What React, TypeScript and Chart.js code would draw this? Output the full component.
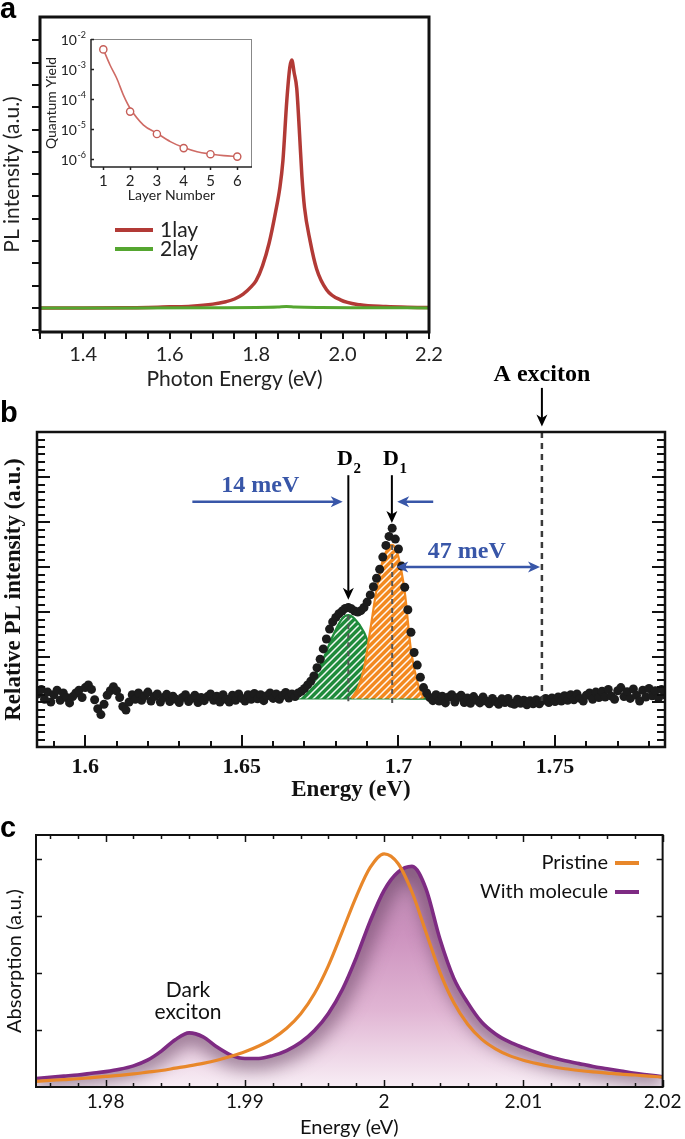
import React, { useEffect, useRef } from 'react';
import { Chart, registerables } from 'chart.js';

Chart.register(...registerables);

const SANS = 'Lato, "Open Sans", "DejaVu Sans", sans-serif';
const SERIF = '"Liberation Serif", "DejaVu Serif", serif';
const LETTER_FONT = 'bold 29px "Liberation Sans", Arial, sans-serif';

// ---------------- Panel a: PL spectra ----------------
const aEnergy1 = [1.30, 1.40, 1.50, 1.55, 1.60, 1.65, 1.70, 1.73, 1.75, 1.77, 1.79, 1.80, 1.815, 1.83, 1.845, 1.855, 1.862, 1.871, 1.878, 1.8826, 1.888, 1.894, 1.9005, 1.906, 1.912, 1.925, 1.94, 1.963, 1.995, 2.04, 2.10, 2.15, 2.20];
const aIntensity1 = [0, 0, 0.01, 0.02, 0.05, 0.08, 0.17, 0.28, 0.40, 0.62, 0.98, 1.22, 1.90, 2.90, 4.30, 5.40, 6.60, 9.30, 10.80, 11.12, 10.55, 9.85, 7.80, 5.90, 4.50, 3.00, 1.75, 0.82, 0.36, 0.14, 0.06, 0.03, 0.02];
const aEnergy2 = [1.30, 1.50, 1.70, 1.80, 1.85, 1.87, 1.89, 1.95, 2.05, 2.20];
const aIntensity2 = [0, 0, 0.01, 0.02, 0.04, 0.06, 0.04, 0.02, 0.01, 0];
const aXTickValues = [1.4, 1.6, 1.8, 2.0, 2.2];
const aXTickLabels = ['1.4', '1.6', '1.8', '2.0', '2.2'];
const aSeriesNames = ['1lay', '2lay'];

// ---------------- Panel a inset: quantum yield ----------------
const insetLayers = [1, 2, 3, 4, 5, 6];
const insetYield = [4.5e-3, 3.8e-5, 6.8e-6, 2.3e-6, 1.44e-6, 1.2e-6];
const insetFitLayer = [1, 1.25, 1.5, 1.75, 2, 2.5, 3, 3.5, 4, 4.5, 5, 5.5, 6];
const insetFitYield = [4.5e-3, 1.36e-3, 4.9e-4, 1.35e-4, 4.9e-5, 1.35e-5, 7.2e-6, 3.8e-6, 2.4e-6, 1.75e-6, 1.47e-6, 1.29e-6, 1.2e-6];
const insetYTickExponents = [-2, -3, -4, -5, -6];

// ---------------- Panel b: relative PL ----------------
const bEnergyStart = 1.585;
const bEnergyStep = 0.001;
const bIntensity = [
  1.18, 1.28, 1.06, 1.22, 1.00, 1.16, 1.26, 1.04, 1.20, 1.10, 0.98, 1.12, 1.20, 1.26, 1.10,
  1.32, 1.38, 1.28, 1.05, 0.85, 0.72, 0.95, 1.15, 1.25, 1.34, 1.25, 1.10, 0.90, 0.82, 1.00,
  1.16, 1.06, 1.20, 1.04, 1.14, 1.22, 1.02, 1.12, 1.18, 1.00, 1.10, 1.17, 1.01, 1.13, 1.06,
  0.99, 1.10, 1.16, 1.01, 1.08, 1.15, 0.99, 1.10, 1.03, 1.12, 1.18, 1.04, 1.13, 1.00, 1.16,
  1.06, 1.00, 1.15, 1.04, 1.18, 1.08, 1.02, 1.16, 1.06, 1.19, 1.07, 1.16, 1.03, 1.14, 1.20,
  1.08, 1.18, 1.06, 1.15, 1.21, 1.09, 1.18, 1.12, 1.20, 1.24, 1.30, 1.38, 1.46, 1.58, 1.76,
  1.95, 2.18, 2.40, 2.62, 2.78, 2.88, 2.96, 3.02, 3.08, 3.10, 3.07, 3.02, 3.00, 3.03, 3.10,
  3.22, 3.38, 3.56, 3.75, 3.95, 4.22, 4.48, 4.68, 4.86, 4.62, 4.40, 4.02, 3.55, 3.05, 2.55,
  2.10, 1.82, 1.55, 1.32, 1.20, 1.10, 1.03, 1.16, 1.02, 1.13, 0.98, 1.11, 1.16, 1.00, 1.10,
  1.15, 0.99, 1.09, 0.97, 1.12, 1.04, 0.98, 1.11, 1.02, 0.96, 1.08, 1.01, 0.95, 1.07, 0.99,
  1.08, 0.97, 0.95, 1.06, 0.97, 1.04, 0.94, 1.03, 0.96, 1.05, 0.96, 1.03, 1.08, 0.99, 1.09,
  1.01, 1.11, 1.02, 1.14, 1.04, 1.16, 1.05, 1.18, 1.08, 1.02, 1.15, 1.20, 1.06, 1.22, 1.10,
  1.24, 1.11, 1.28, 1.13, 1.06, 1.25, 1.32, 1.12, 1.23, 1.08, 1.29, 1.15, 1.02, 1.26, 1.11,
  1.30, 1.14, 1.25, 1.09, 1.28, 1.16,
];
const bD2Energy = [1.666, 1.667, 1.670, 1.673, 1.676, 1.679, 1.682, 1.684, 1.686, 1.689, 1.692, 1.695, 1.698, 1.701, 1.704, 1.709];
const bD2Fit = [1.08, 1.12, 1.27, 1.53, 1.96, 2.46, 2.85, 2.93, 2.85, 2.55, 2.00, 1.55, 1.20, 1.09, 1.08, 1.08];
const bD1Energy = [1.685, 1.687, 1.689, 1.691, 1.693, 1.695, 1.697, 1.698, 1.699, 1.700, 1.702, 1.704, 1.706, 1.708];
const bD1Fit = [1.08, 1.30, 1.75, 2.60, 3.50, 4.15, 4.45, 4.49, 4.42, 4.22, 3.45, 2.15, 1.45, 1.08];
const bFitBase = 1.08;
const bBaseEnergy = [1.666, 1.709];
const bXTickValues = [1.6, 1.65, 1.7, 1.75];
const bXTickLabels = ['1.6', '1.65', '1.7', '1.75'];
const bPeakD2 = 1.684;
const bPeakD1 = 1.698;
const bAExciton = 1.7458;

// ---------------- Panel c: absorption (sampled every 1 meV from 1.975 eV) ----------------
const cEnergyStart = 1.975;
const cEnergyStep = 0.001;
const cPristine = [
  0.10, 0.115, 0.13, 0.145, 0.165, 0.185, 0.205, 0.23, 0.26, 0.29,
  0.33, 0.37, 0.415, 0.47, 0.54, 0.62, 0.72, 0.85, 1.03, 1.28,
  1.64, 2.13, 2.73, 3.34, 3.85, 4.09, 3.92, 3.42, 2.72, 2.02,
  1.48, 1.10, 0.84, 0.67, 0.55, 0.47, 0.41, 0.36, 0.32, 0.29,
  0.265, 0.245, 0.225, 0.21, 0.19, 0.175,
];
const cMolecule = [
  0.15, 0.17, 0.19, 0.21, 0.24, 0.27, 0.31, 0.37, 0.47, 0.63,
  0.83, 0.95, 0.88, 0.70, 0.56, 0.50, 0.50, 0.55, 0.64, 0.78,
  0.99, 1.29, 1.71, 2.27, 2.91, 3.45, 3.77, 3.87, 3.48, 2.60,
  1.91, 1.48, 1.14, 0.93, 0.79, 0.69, 0.60, 0.52, 0.46, 0.41,
  0.36, 0.32, 0.28, 0.24, 0.21, 0.18,
];
const cXTickValues = [1.98, 1.99, 2, 2.01, 2.02];
const cXTickLabels = ['1.98', '1.99', '2', '2.01', '2.02'];
const cSeriesNames = ['Pristine', 'With molecule'];

// ---------------- helpers ----------------
const xy = (xs: number[], ys: number[]) => xs.map((x, i) => ({ x, y: ys[i] }));
const bEnergy = bIntensity.map((_, i) => +(bEnergyStart + i * bEnergyStep).toFixed(4));
const cEnergy = cPristine.map((_, i) => +(cEnergyStart + i * cEnergyStep).toFixed(4));

function stepValues(min: number, max: number, step: number) {
  const out: number[] = [];
  const n = Math.round((max - min) / step);
  for (let i = 0; i <= n; i++) out.push(min + i * step);
  return out;
}
function isMultiple(v: number, m: number) {
  const r = v / m;
  return Math.abs(r - Math.round(r)) < 1e-6;
}
function seg(ctx: CanvasRenderingContext2D, x1: number, y1: number, x2: number, y2: number) {
  ctx.beginPath();
  ctx.moveTo(x1, y1);
  ctx.lineTo(x2, y2);
  ctx.stroke();
}
function head(ctx: CanvasRenderingContext2D, tx: number, ty: number, ang: number, len: number, wid: number) {
  const c = Math.cos(ang), s = Math.sin(ang);
  const bx = tx - len * c, by = ty - len * s;
  ctx.beginPath();
  ctx.moveTo(tx, ty);
  ctx.lineTo(bx - (wid / 2) * s, by + (wid / 2) * c);
  ctx.lineTo(tx - len * 0.72 * c, ty - len * 0.72 * s);
  ctx.lineTo(bx + (wid / 2) * s, by - (wid / 2) * c);
  ctx.closePath();
  ctx.fill();
}
function arrow(ctx: CanvasRenderingContext2D, x1: number, y1: number, x2: number, y2: number, len = 11, wid = 10, both = false) {
  const ang = Math.atan2(y2 - y1, x2 - x1);
  const c = Math.cos(ang), s = Math.sin(ang);
  const sx = both ? x1 + len * 0.7 * c : x1;
  const sy = both ? y1 + len * 0.7 * s : y1;
  seg(ctx, sx, sy, x2 - len * 0.7 * c, y2 - len * 0.7 * s);
  head(ctx, x2, y2, ang, len, wid);
  if (both) head(ctx, x1, y1, ang + Math.PI, len, wid);
}
function makeHatch(color: string) {
  const c = document.createElement('canvas');
  c.width = 7;
  c.height = 7;
  const g = c.getContext('2d')!;
  g.fillStyle = color;
  g.fillRect(0, 0, 7, 7);
  g.strokeStyle = 'rgba(255,255,255,0.95)';
  g.lineWidth = 1.5;
  g.beginPath();
  g.moveTo(-1, 8); g.lineTo(8, -1);
  g.moveTo(-1, 1); g.lineTo(1, -1);
  g.moveTo(6, 8); g.lineTo(8, 6);
  g.stroke();
  return g.createPattern(c, 'repeat')!;
}
const hiddenGrid = { display: false, drawTicks: false };
const noTooltip = { legend: { display: false }, tooltip: { enabled: false } };

// ---------------- Panel a ----------------
function makePanelA(canvas: HTMLCanvasElement) {
  const plugin = {
    id: 'panelA',
    afterDraw(chart: any) {
      const { ctx, chartArea: ca } = chart;
      const x = chart.scales.x, y = chart.scales.y;
      ctx.save();
      ctx.strokeStyle = '#111';
      ctx.lineWidth = 2;
      for (const v of stepValues(1.3, 2.2, 0.05)) {
        const p = Math.round(x.getPixelForValue(v));
        seg(ctx, p, ca.bottom, p, ca.bottom + 7);
      }
      for (const v of stepValues(-1, 12, 1)) {
        const p = Math.round(y.getPixelForValue(v));
        seg(ctx, ca.left - 8, p, ca.left, p);
      }
      ctx.lineWidth = 3;
      ctx.strokeRect(ca.left, ca.top, ca.right - ca.left, ca.bottom - ca.top);
      const ds = chart.data.datasets;
      aSeriesNames.forEach((name, i) => {
        const d = ds.find((q: any) => q.label === name);
        const ly = 230 + i * 19;
        ctx.strokeStyle = d.borderColor;
        ctx.lineWidth = 4;
        seg(ctx, 115, ly, 153, ly);
        ctx.fillStyle = '#222';
        ctx.font = `21px ${SANS}`;
        ctx.textBaseline = 'middle';
        ctx.textAlign = 'left';
        ctx.fillText(name, 160, ly);
      });
      ctx.fillStyle = '#000';
      ctx.font = LETTER_FONT;
      ctx.textBaseline = 'alphabetic';
      ctx.fillText('a', 0, 18);
      ctx.restore();
    },
  };
  return new Chart(canvas, {
    type: 'line',
    data: {
      datasets: [
        { label: aSeriesNames[1], data: xy(aEnergy2, aIntensity2), borderColor: '#55a630', borderWidth: 3, pointRadius: 0, cubicInterpolationMode: 'monotone', fill: false },
        { label: aSeriesNames[0], data: xy(aEnergy1, aIntensity1), borderColor: '#b23a36', borderWidth: 3.5, pointRadius: 0, cubicInterpolationMode: 'monotone', fill: false },
      ],
    },
    options: {
      responsive: false,
      animation: false,
      layout: { padding: { left: 0, top: 17, right: 256, bottom: 0 } },
      plugins: noTooltip,
      scales: {
        x: {
          type: 'linear', min: 1.3, max: 2.2,
          afterFit: (s: any) => { s.height = 68; },
          afterBuildTicks: (s: any) => { s.ticks = aXTickValues.map((v) => ({ value: v })); },
          grid: hiddenGrid, border: { display: false },
          ticks: { font: { family: SANS, size: 20 }, color: '#222', padding: 11, autoSkip: false, maxRotation: 0, callback: (_v: any, i: number) => aXTickLabels[i] },
          title: { display: true, text: 'Photon Energy (eV)', color: '#222', font: { family: SANS, size: 21 }, padding: { top: 0, bottom: 8.4 } },
        },
        y: {
          type: 'linear', min: -1.08, max: 13.05,
          afterFit: (s: any) => { s.width = 40; },
          grid: hiddenGrid, border: { display: false },
          ticks: { display: false },
          title: { display: true, text: 'PL intensity (a.u.)', color: '#222', font: { family: SANS, size: 21 }, padding: { top: 0, bottom: 0 } },
        },
      },
    } as any,
    plugins: [plugin],
  });
}

// ---------------- Inset ----------------
function makeInset(canvas: HTMLCanvasElement) {
  const plugin = {
    id: 'inset',
    afterDraw(chart: any) {
      const { ctx, chartArea: ca } = chart;
      const x = chart.scales.x, y = chart.scales.y;
      ctx.save();
      ctx.strokeStyle = '#888';
      ctx.lineWidth = 1;
      seg(ctx, ca.left, ca.top + 0.5, ca.right, ca.top + 0.5);
      seg(ctx, ca.right - 0.5, ca.top, ca.right - 0.5, ca.bottom);
      ctx.strokeStyle = '#222';
      ctx.lineWidth = 1.5;
      seg(ctx, ca.left, ca.top, ca.left, ca.bottom);
      seg(ctx, ca.left, ca.bottom, ca.right, ca.bottom);
      for (const v of insetLayers) {
        const p = Math.round(x.getPixelForValue(v)) + 0.5;
        seg(ctx, p, ca.bottom, p, ca.bottom + 3);
      }
      ctx.fillStyle = '#222';
      ctx.textBaseline = 'alphabetic';
      for (const e of insetYTickExponents) {
        const p = Math.round(y.getPixelForValue(Math.pow(10, e))) + 0.5;
        seg(ctx, ca.left, p, ca.left + 3, p);
        const sup = '-' + Math.abs(e);
        ctx.font = `9px ${SANS}`;
        const sw = ctx.measureText(sup).width;
        ctx.textAlign = 'right';
        ctx.fillText(sup, ca.left - 5, p - 2);
        ctx.font = `14px ${SANS}`;
        ctx.fillText('10', ca.left - 5 - sw - 0.5, p + 5);
      }
      ctx.restore();
    },
  };
  return new Chart(canvas, {
    type: 'line',
    data: {
      datasets: [
        { label: 'measured', data: xy(insetLayers, insetYield), showLine: false, pointRadius: 3.6, pointBorderWidth: 1.4, pointBorderColor: '#c65e58', pointBackgroundColor: '#fff', borderColor: '#c65e58' },
        { label: 'fit', data: xy(insetFitLayer, insetFitYield), borderColor: '#cf6b65', borderWidth: 1.6, pointRadius: 0, cubicInterpolationMode: 'monotone', fill: false },
      ],
    },
    options: {
      responsive: false,
      animation: false,
      layout: { padding: { left: 0, top: 14, right: 8, bottom: 0 } },
      plugins: noTooltip,
      scales: {
        x: {
          type: 'linear', min: 0.54, max: 6.55,
          afterFit: (s: any) => { s.height = 38; },
          afterBuildTicks: (s: any) => { s.ticks = insetLayers.map((v) => ({ value: v })); },
          grid: hiddenGrid, border: { display: false },
          ticks: { font: { family: SANS, size: 15 }, color: '#222', padding: 5, autoSkip: false, maxRotation: 0, callback: (v: any) => String(v) },
          title: { display: true, text: 'Layer Number', color: '#222', font: { family: SANS, size: 14 }, padding: { top: 0, bottom: 1.6 } },
        },
        y: {
          type: 'logarithmic', min: 5.4e-7, max: 1e-2,
          afterFit: (s: any) => { s.width = 61; },
          grid: hiddenGrid, border: { display: false },
          ticks: { display: false },
          title: { display: true, text: 'Quantum Yield', color: '#222', font: { family: SANS, size: 14 }, padding: { top: 12.6, bottom: 0 } },
        },
      },
    } as any,
    plugins: [plugin],
  });
}

// ---------------- Panel b ----------------
function makePanelB(canvas: HTMLCanvasElement) {
  const blue = '#3856a8';
  const plugin = {
    id: 'panelB',
    afterDatasetsDraw(chart: any) {
      const { ctx, chartArea: ca } = chart;
      const x = chart.scales.x, y = chart.scales.y;
      const X = (v: number) => x.getPixelForValue(v);
      const Y = (v: number) => y.getPixelForValue(v);
      ctx.save();
      ctx.lineCap = 'butt';
      ctx.strokeStyle = '#555';
      ctx.lineWidth = 2;
      ctx.setLineDash([5, 4]);
      seg(ctx, X(bPeakD2), Y(2.93), X(bPeakD2), Y(1.0));
      seg(ctx, X(bPeakD1), Y(4.49), X(bPeakD1), Y(0.9));
      ctx.strokeStyle = '#3a3a3a';
      ctx.lineWidth = 2.5;
      ctx.setLineDash([6, 5]);
      seg(ctx, X(bAExciton), ca.top, X(bAExciton), Y(1.02));
      ctx.setLineDash([]);
      ctx.strokeStyle = '#000';
      ctx.fillStyle = '#000';
      ctx.lineWidth = 2;
      arrow(ctx, X(bPeakD2), Y(6.04), X(bPeakD2), Y(3.27), 12, 11);
      arrow(ctx, X(1.6979), Y(6.04), X(1.6979), Y(4.98), 12, 11);
      arrow(ctx, X(bAExciton), Y(7.98), X(bAExciton), Y(7.12), 12, 11);
      const drawD = (sub: string, xv: number) => {
        ctx.font = `bold 22px ${SERIF}`;
        ctx.textAlign = 'left';
        ctx.textBaseline = 'alphabetic';
        ctx.fillText('D', X(xv), Y(6.27));
        const w = ctx.measureText('D').width;
        ctx.font = `bold 15px ${SERIF}`;
        ctx.fillText(sub, X(xv) + w + 0.5, Y(6.27) + 8);
      };
      drawD('2', 1.6804);
      drawD('1', 1.6951);
      ctx.font = `bold 24px ${SERIF}`;
      ctx.textAlign = 'center';
      ctx.fillText('A exciton', X(bAExciton), Y(8.13));
      ctx.strokeStyle = blue;
      ctx.fillStyle = blue;
      ctx.lineWidth = 2.5;
      arrow(ctx, X(1.6342), Y(5.45), X(1.6822), Y(5.45), 12, 11);
      arrow(ctx, X(1.7111), Y(5.45), X(1.6996), Y(5.45), 12, 11);
      arrow(ctx, X(1.6993), Y(4.0), X(1.7452), Y(4.0), 12, 11, true);
      ctx.font = `bold 24px ${SERIF}`;
      ctx.textAlign = 'center';
      ctx.fillText('14 meV', X(1.6559), Y(5.67));
      ctx.fillText('47 meV', X(1.7218), Y(4.2));
      ctx.restore();
    },
    afterDraw(chart: any) {
      const { ctx, chartArea: ca } = chart;
      const x = chart.scales.x, y = chart.scales.y;
      ctx.save();
      ctx.strokeStyle = '#111';
      ctx.lineWidth = 2;
      for (const v of stepValues(1.59, 1.78, 0.01)) {
        const p = Math.round(x.getPixelForValue(v));
        const len = isMultiple(v, 0.05) ? 12 : 6;
        seg(ctx, p, ca.bottom, p, ca.bottom - len);
      }
      for (const v of stepValues(0, 7, 1 / 6)) {
        const p = Math.round(y.getPixelForValue(v));
        const len = isMultiple(v, 1) ? 13 : 8;
        seg(ctx, ca.left, p, ca.left + len, p);
        seg(ctx, ca.right, p, ca.right - len, p);
      }
      ctx.lineWidth = 2.5;
      ctx.strokeRect(ca.left, ca.top, ca.right - ca.left, ca.bottom - ca.top);
      ctx.fillStyle = '#000';
      ctx.font = LETTER_FONT;
      ctx.textAlign = 'left';
      ctx.textBaseline = 'alphabetic';
      ctx.fillText('b', 0, 82);
      ctx.restore();
    },
  };
  return new Chart(canvas, {
    type: 'line',
    data: {
      datasets: [
        { label: 'PL', data: xy(bEnergy, bIntensity), showLine: false, pointRadius: 4.5, pointBorderWidth: 0, pointBackgroundColor: '#1c1c1c', borderColor: '#1c1c1c' },
        { label: 'D1 fit', data: xy(bD1Energy, bD1Fit), borderColor: '#f3891f', borderWidth: 2.2, pointRadius: 0, cubicInterpolationMode: 'monotone', fill: { value: bFitBase }, backgroundColor: makeHatch('#f3891f') },
        { label: 'D2 fit', data: xy(bD2Energy, bD2Fit), borderColor: '#1f8b3b', borderWidth: 2.2, pointRadius: 0, cubicInterpolationMode: 'monotone', fill: { value: bFitBase }, backgroundColor: makeHatch('#1f8b3b') },
        { label: 'base', data: xy(bBaseEnergy, [bFitBase, bFitBase]), borderColor: '#1f8b3b', borderWidth: 2.2, pointRadius: 0, fill: false },
      ],
    },
    options: {
      responsive: false,
      animation: false,
      layout: { padding: { left: 0, top: 92, right: 20, bottom: 0 } },
      plugins: noTooltip,
      scales: {
        x: {
          type: 'linear', min: 1.5846, max: 1.7851,
          afterFit: (s: any) => { s.height = 63; },
          afterBuildTicks: (s: any) => { s.ticks = bXTickValues.map((v) => ({ value: v })); },
          grid: hiddenGrid, border: { display: false },
          ticks: { font: { family: SERIF, size: 22, weight: 'bold' }, color: '#111', padding: 6.8, autoSkip: false, maxRotation: 0, callback: (_v: any, i: number) => bXTickLabels[i] },
          title: { display: true, text: 'Energy (eV)', color: '#111', font: { family: SERIF, size: 23, weight: 'bold' }, padding: { top: 0, bottom: 6.2 } },
        },
        y: {
          type: 'linear', min: 0, max: 7,
          afterFit: (s: any) => { s.width = 37; },
          grid: hiddenGrid, border: { display: false },
          ticks: { display: false },
          title: { display: true, text: 'Relative PL intensity (a.u.)', color: '#111', font: { family: SERIF, size: 23, weight: 'bold' }, padding: { top: 0, bottom: 0 } },
        },
      },
    } as any,
    plugins: [plugin],
  });
}

// ---------------- Panel c ----------------
function makePanelC(canvas: HTMLCanvasElement) {
  const fillPlugin = {
    id: 'purpleFill',
    beforeDatasetsDraw(chart: any) {
      const { ctx, chartArea: ca } = chart;
      const meta = chart.getDatasetMeta(1);
      const line = meta.dataset;
      if (!line || !line.points || !line.points.length) return;
      line.updateControlPoints(ca, 'x');
      const pts = line.points;
      const yb = chart.scales.y.getPixelForValue(0);
      ctx.save();
      ctx.beginPath();
      line.path(ctx);
      ctx.lineTo(pts[pts.length - 1].x, yb);
      ctx.lineTo(pts[0].x, yb);
      ctx.closePath();
      ctx.clip();
      const g = ctx.createLinearGradient(0, ca.top, 0, ca.bottom);
      g.addColorStop(0, '#b080a8');
      g.addColorStop(0.4, '#cd93bf');
      g.addColorStop(0.7, '#e1b6d4');
      g.addColorStop(1, '#f8eef5');
      ctx.fillStyle = g;
      ctx.fillRect(ca.left, ca.top, ca.right - ca.left, ca.bottom - ca.top);
      ctx.filter = 'blur(9px)';
      ctx.beginPath();
      line.path(ctx);
      ctx.lineWidth = 22;
      ctx.lineJoin = 'round';
      ctx.strokeStyle = 'rgba(88,52,84,0.55)';
      ctx.stroke();
      ctx.filter = 'none';
      ctx.restore();
    },
  };
  const plugin = {
    id: 'panelC',
    afterDraw(chart: any) {
      const { ctx, chartArea: ca } = chart;
      const x = chart.scales.x, y = chart.scales.y;
      ctx.save();
      ctx.strokeStyle = '#111';
      ctx.lineWidth = 1.5;
      for (const v of stepValues(1.976, 2.02, 0.002)) {
        const p = Math.round(x.getPixelForValue(v)) + 0.5;
        const len = isMultiple(v, 0.01) ? 7 : 4;
        seg(ctx, p, ca.bottom, p, ca.bottom - len);
        seg(ctx, p, ca.top, p, ca.top + len);
      }
      for (const v of [1, 2, 3, 4]) {
        const p = Math.round(y.getPixelForValue(v)) + 0.5;
        seg(ctx, ca.left, p, ca.left + 6, p);
        seg(ctx, ca.right, p, ca.right - 6, p);
      }
      ctx.lineWidth = 2;
      ctx.strokeRect(ca.left, ca.top, ca.right - ca.left, ca.bottom - ca.top);
      const ds = chart.data.datasets;
      cSeriesNames.forEach((name, i) => {
        const d = ds.find((q: any) => q.label === name);
        const ly = 63 + i * 29;
        ctx.fillStyle = '#111';
        ctx.font = `20px ${SANS}`;
        ctx.textAlign = 'right';
        ctx.textBaseline = 'middle';
        ctx.fillText(name, 608, ly);
        ctx.strokeStyle = d.borderColor;
        ctx.lineWidth = 4;
        seg(ctx, 615, ly, 639, ly);
      });
      ctx.fillStyle = '#111';
      ctx.font = `21px ${SANS}`;
      ctx.textAlign = 'center';
      ctx.textBaseline = 'middle';
      ctx.fillText('Dark', 188, 190);
      ctx.fillText('exciton', 188, 212);
      ctx.fillStyle = '#000';
      ctx.font = LETTER_FONT;
      ctx.textAlign = 'left';
      ctx.textBaseline = 'alphabetic';
      ctx.fillText('c', 0, 37);
      ctx.restore();
    },
  };
  return new Chart(canvas, {
    type: 'line',
    data: {
      datasets: [
        { label: cSeriesNames[0], data: xy(cEnergy, cPristine), borderColor: '#e8872a', borderWidth: 3.2, pointRadius: 0, cubicInterpolationMode: 'monotone', fill: false },
        { label: cSeriesNames[1], data: xy(cEnergy, cMolecule), borderColor: '#7e2b83', borderWidth: 3.6, pointRadius: 0, cubicInterpolationMode: 'monotone', fill: false },
      ],
    },
    options: {
      responsive: false,
      animation: false,
      layout: { padding: { left: 0, top: 35, right: 19, bottom: 0 } },
      plugins: noTooltip,
      scales: {
        x: {
          type: 'linear', min: 1.975, max: 2.02,
          afterFit: (s: any) => { s.height = 52; },
          afterBuildTicks: (s: any) => { s.ticks = cXTickValues.map((v) => ({ value: v })); },
          grid: hiddenGrid, border: { display: false },
          ticks: { font: { family: SANS, size: 19 }, color: '#111', padding: 3.6, autoSkip: false, maxRotation: 0, callback: (_v: any, i: number) => cXTickLabels[i] },
          title: { display: true, text: 'Energy (eV)', color: '#111', font: { family: SANS, size: 20, lineHeight: 1 }, padding: { top: 0, bottom: 1 } },
        },
        y: {
          type: 'linear', min: 0, max: 4.42,
          afterFit: (s: any) => { s.width = 36; },
          grid: hiddenGrid, border: { display: false },
          ticks: { display: false },
          title: { display: true, text: 'Absorption (a.u.)', color: '#111', font: { family: SANS, size: 20 }, padding: { top: 3, bottom: 0 } },
        },
      },
    } as any,
    plugins: [fillPlugin, plugin],
  });
}

export default function App() {
  const aRef = useRef<HTMLCanvasElement>(null);
  const insetRef = useRef<HTMLCanvasElement>(null);
  const bRef = useRef<HTMLCanvasElement>(null);
  const cRef = useRef<HTMLCanvasElement>(null);

  useEffect(() => {
    document.body.style.margin = '0';
    const charts = [
      makePanelA(aRef.current!),
      makePanelC(cRef.current!),
      makePanelB(bRef.current!),
      makeInset(insetRef.current!),
    ];
    return () => charts.forEach((c) => c.destroy());
  }, []);

  const pos = (left: number, top: number, width: number, height: number): React.CSSProperties => ({
    position: 'absolute', left, top, width, height,
  });

  return (
    <div style={{ position: 'absolute', left: 0, top: 0, width: 685, height: 1139, background: '#fff', overflow: 'hidden' }}>
      <canvas ref={aRef} width={685} height={400} style={pos(0, 0, 685, 400)} />
      <canvas ref={cRef} width={685} height={339} style={pos(0, 800, 685, 339)} />
      <canvas ref={bRef} width={685} height={470} style={pos(0, 340, 685, 470)} />
      <canvas ref={insetRef} width={230} height={180} style={pos(30, 25, 230, 180)} />
    </div>
  );
}
